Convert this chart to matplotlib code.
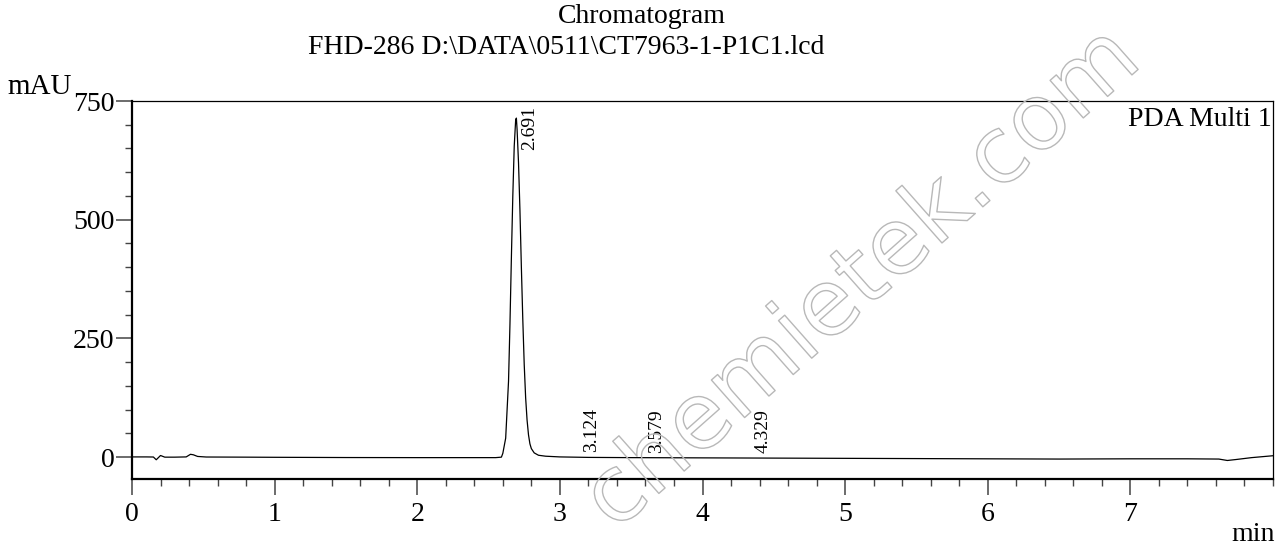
import matplotlib
matplotlib.use("Agg")
import matplotlib.pyplot as plt
import matplotlib.patheffects as pe
import numpy as np

# ---- data (time in min, signal in mAU) ----
time_min = [0.00, 0.10, 0.15, 0.17, 0.185, 0.20, 0.23, 0.30, 0.38, 0.41, 0.43,
            0.46, 0.52, 0.80, 1.00, 1.50, 2.00, 2.40, 2.55, 2.59, 2.60, 2.62,
            2.64, 2.65, 2.66, 2.67, 2.68, 2.69, 2.695, 2.70, 2.71, 2.72, 2.73,
            2.74, 2.75, 2.76, 2.77, 2.78, 2.79, 2.80, 2.82, 2.85, 2.90, 3.00,
            3.20, 3.50, 4.00, 4.50, 5.00, 5.50, 6.00, 6.50, 7.00, 7.40, 7.62,
            7.68, 7.74, 7.85, 8.00]
signal_mau = [0.5, 0.5, 0.3, -5.5, -1.0, 3.5, 0.0, 0.0, 0.5, 6.0, 5.0,
              1.5, 0.3, 0.0, -0.3, -0.8, -1.0, -1.0, -1.0, 0.0, 8.0, 40.0,
              160.0, 280.0, 420.0, 550.0, 655.0, 710.0, 714.0, 690.0, 620.0, 520.0, 400.0,
              290.0, 195.0, 125.0, 78.0, 47.0, 28.0, 18.0, 9.0, 4.0, 2.0, 0.5,
              -0.5, -1.0, -1.5, -2.0, -2.5, -3.0, -3.5, -4.0, -3.5, -3.5, -4.0,
              -7.0, -5.0, -1.0, 3.0]

peak_rt = [2.691, 3.124, 3.579, 4.329]
peak_labels = ["2.691", "3.124", "3.579", "4.329"]

x_major = [0, 1, 2, 3, 4, 5, 6, 7]
y_major = [0, 250, 500, 750]

title_lines = ["Chromatogram", "FHD-286 D:\\DATA\\0511\\CT7963-1-P1C1.lcd"]
channel_name = "PDA Multi 1"
watermark = "chemietek.com"

SERIF = ["Liberation Serif", "DejaVu Serif"]
FS = 20
W, H = 1286, 558
DPI = 100
PT = 72.0 / DPI  # points per pixel

fig = plt.figure(figsize=(W / DPI, H / DPI), dpi=DPI)
ax = fig.add_axes([132 / W, 1 - 479 / H, (1273 - 132) / W, (479 - 101) / H])

ax.plot(time_min, signal_mau, color="black", lw=0.9)

ax.set_xlim(0, 8)
ax.set_ylim(-46, 750)

ax.set_xticks(x_major)
ax.set_xticks(np.arange(0, 8.001, 0.2), minor=True)
ax.set_yticks(y_major)
ax.set_yticks(np.arange(0, 751, 50), minor=True)
ax.set_xticklabels([str(v) for v in x_major], fontfamily=SERIF, fontsize=FS)
ax.set_yticklabels([str(v) for v in y_major], fontfamily=SERIF, fontsize=FS)

ax.tick_params(axis="both", which="major", direction="out", length=16 * PT,
               width=1.1, color="#444444")
ax.tick_params(axis="both", which="minor", direction="out", length=7 * PT,
               width=1.0, color="#444444")
ax.tick_params(axis="y", which="major", pad=1)
ax.tick_params(axis="x", which="major", pad=5)

for side in ["left", "bottom"]:
    ax.spines[side].set_linewidth(1.6)
for side in ["top", "right"]:
    ax.spines[side].set_linewidth(0.9)

# peak labels
t_arr = np.array(time_min)
s_arr = np.array(signal_mau)
for rt, lab in zip(peak_rt, peak_labels):
    yv = float(np.interp(rt, t_arr, s_arr))
    if yv > 500:
        ax.annotate(lab, xy=(rt, yv), xytext=(14 * PT, 14 * PT),
                    textcoords="offset points", rotation=90, ha="center",
                    va="top", fontfamily=SERIF, fontsize=14)
    else:
        ax.annotate(lab, xy=(rt, yv), xytext=(14 * PT, 5 * PT),
                    textcoords="offset points", rotation=90, ha="center",
                    va="bottom", fontfamily=SERIF, fontsize=14)

ax.text(0.999, 0.985, channel_name, transform=ax.transAxes, ha="right",
        va="top", fontfamily=SERIF, fontsize=FS)

fig.text(642 / W, 1 - 4 / H, title_lines[0], ha="center", va="top",
         fontfamily=SERIF, fontsize=FS)
fig.text(566 / W, 1 - 35 / H, title_lines[1], ha="center", va="top",
         fontfamily=SERIF, fontsize=FS)

fig.text(7 / W, 1 - 94 / H, "mAU", ha="left", va="baseline",
         fontfamily=SERIF, fontsize=21)
fig.text(1275 / W, 1 - 541 / H, "min", ha="right", va="baseline",
         fontfamily=SERIF, fontsize=FS)

# outlined watermark
fig.text(862 / W, 1 - 279 / H, watermark, ha="center", va="center",
         rotation=41.5, fontsize=66, color="none", family="DejaVu Sans",
         path_effects=[pe.Stroke(linewidth=1.0, foreground="#b8b8b8")])

fig.savefig("out.png", dpi=DPI)
